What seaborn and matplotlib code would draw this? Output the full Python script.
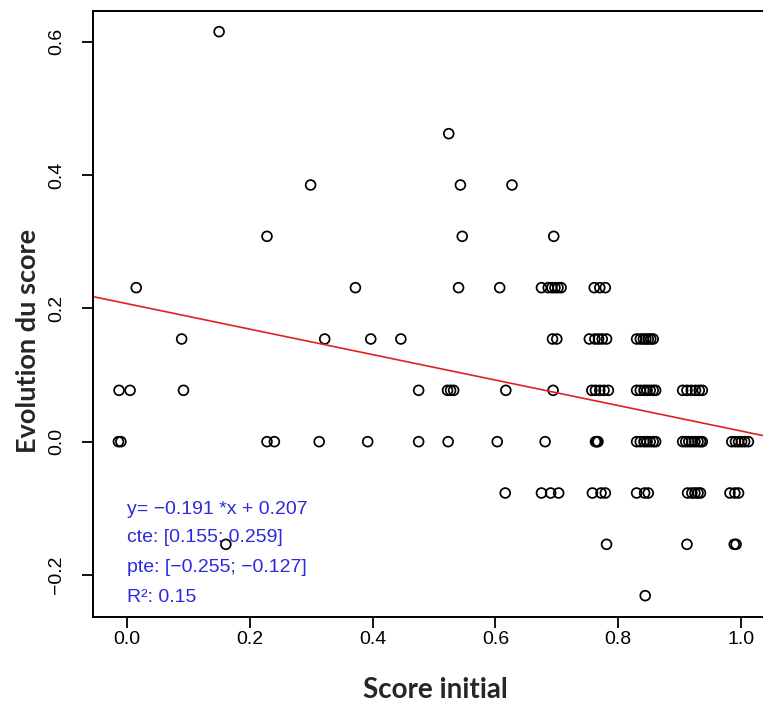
import matplotlib
matplotlib.use("Agg")
import matplotlib.pyplot as plt
import seaborn as sns
import pandas as pd

# ---- data ----
# each list holds the "Score initial" values of the points at one "Evolution du score" level
evol_levels = [0.615, 0.462, 0.385, 0.308, 0.231, 0.154, 0.077, 0.0, -0.077, -0.154, -0.231]
score_at_0615 = [0.150]
score_at_0462 = [0.524]
score_at_0385 = [0.299, 0.543, 0.627]
score_at_0308 = [0.228, 0.546, 0.695]
score_at_0231 = [0.015, 0.372, 0.540, 0.607, 0.675, 0.686, 0.692, 0.697, 0.702, 0.707,
                 0.761, 0.770, 0.779]
score_at_0154 = [0.089, 0.322, 0.397, 0.446, 0.693, 0.700, 0.753, 0.762, 0.768, 0.774,
                 0.781, 0.830, 0.836, 0.841, 0.845, 0.849, 0.853, 0.857]
score_at_0077 = [-0.013, 0.005, 0.092, 0.475, 0.522, 0.527, 0.532, 0.617, 0.694,
                 0.757, 0.763, 0.770, 0.777, 0.784, 0.830, 0.836, 0.842, 0.847, 0.852,
                 0.857, 0.861, 0.905, 0.912, 0.919, 0.926, 0.932, 0.937]
score_at_0000 = [-0.014, -0.010, 0.228, 0.240, 0.313, 0.392, 0.475, 0.523, 0.603, 0.681,
                 0.763, 0.765, 0.767, 0.830, 0.836, 0.842, 0.847, 0.852, 0.857, 0.861,
                 0.905, 0.910, 0.915, 0.920, 0.925, 0.930, 0.934, 0.937,
                 0.985, 0.991, 0.996, 1.001, 1.006, 1.012]
score_at_m0077 = [0.616, 0.675, 0.690, 0.703, 0.758, 0.772, 0.779, 0.830, 0.843, 0.849,
                  0.913, 0.920, 0.925, 0.930, 0.934, 0.982, 0.990, 0.996]
score_at_m0154 = [0.161, 0.781, 0.912, 0.989, 0.992]
score_at_m0231 = [0.844]

# regression results shown on the chart
slope = -0.191
intercept = 0.207
annot_lines = ["y= \u22120.191 *x + 0.207",
               "cte: [0.155; 0.259]",
               "pte: [\u22120.255; \u22120.127]",
               "R\u00b2: 0.15"]

x_ticks = [0.0, 0.2, 0.4, 0.6, 0.8, 1.0]
y_ticks = [-0.2, 0.0, 0.2, 0.4, 0.6]

groups = [score_at_0615, score_at_0462, score_at_0385, score_at_0308, score_at_0231,
          score_at_0154, score_at_0077, score_at_0000, score_at_m0077, score_at_m0154,
          score_at_m0231]
rows = []
for lev, xs in zip(evol_levels, groups):
    for xv in xs:
        rows.append((xv, lev))
df = pd.DataFrame(rows, columns=["score", "evol"])

# ---- figure ----
sns.set_style("ticks")
plt.rcParams['font.family'] = ['Liberation Sans', 'DejaVu Sans']

W, H = 763, 713
fig = plt.figure(figsize=(W / 100, H / 100), dpi=100)
ax = fig.add_axes([93 / W, 96 / H, (772 - 93) / W, (617 - 11) / H])

sns.scatterplot(data=df, x="score", y="evol", ax=ax, marker="o", s=50,
                facecolors="none", edgecolor="black", linewidth=1.25, legend=False)

ax.axline((0, intercept), slope=slope, color="#dd2222", lw=1.2, zorder=1)

ax.set_xlim(-0.0554, 1.0505)
ax.set_ylim(-0.263, 0.646)

ax.set_xticks(x_ticks)
ax.set_xticklabels([f"{t:.1f}" for t in x_ticks])
ax.set_yticks(y_ticks)
ax.set_yticklabels([f"{t:.1f}".replace("-", "\u2212") for t in y_ticks],
                   rotation=90, va="center")

for sp in ax.spines.values():
    sp.set_linewidth(1.4)
    sp.set_color("black")
ax.tick_params(axis="both", direction="out", length=8, width=1.3, colors="black",
               labelsize=14)
ax.tick_params(axis="x", pad=2)
ax.tick_params(axis="y", pad=12)

ax.set_xlabel("")
ax.set_ylabel("")
fig.text(435 / W, 1 - 690 / H, "Score initial", family=["Lato", "DejaVu Sans"],
         fontweight="bold", fontsize=20, ha="center", va="center")
fig.text(28 / W, 1 - 341 / H, "Evolution du score", family=["Lato", "DejaVu Sans"],
         fontweight="bold", fontsize=19.5, ha="center", va="center", rotation=90)

y_text = [-0.1025, -0.1445, -0.1895, -0.233]
for yt, s in zip(y_text, annot_lines):
    ax.text(0.0, yt, s, color="#2b2bd9", fontsize=14, ha="left", va="center")

fig.savefig("out.png", dpi=100)
